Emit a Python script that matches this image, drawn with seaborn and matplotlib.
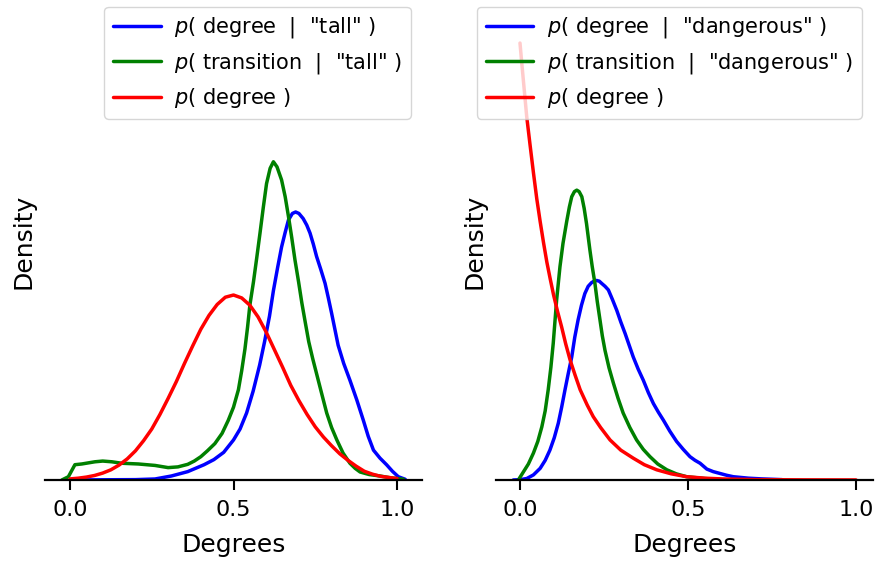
import numpy as np
import pandas as pd
import matplotlib
matplotlib.use("Agg")
import matplotlib.pyplot as plt
import seaborn as sns

# ---- density curves for "tall" ----
tall_degree_x = [0.0, 0.10, 0.20, 0.26, 0.31, 0.36, 0.41, 0.44, 0.47, 0.50, 0.52,
                 0.54, 0.56, 0.58, 0.595, 0.61, 0.622, 0.635, 0.647, 0.658, 0.668,
                 0.68, 0.69, 0.70, 0.713, 0.724, 0.734, 0.744, 0.754, 0.767, 0.78,
                 0.79, 0.80, 0.81, 0.82, 0.837, 0.856, 0.877, 0.897, 0.912, 0.928,
                 0.948, 0.968, 0.986, 1.004, 1.025]
tall_degree_y = [0.0, 0.003, 0.005, 0.014, 0.055, 0.115, 0.21, 0.28, 0.38, 0.55, 0.70,
                 0.92, 1.22, 1.58, 1.90, 2.25, 2.60, 2.92, 3.20, 3.40, 3.57,
                 3.66, 3.68, 3.66, 3.59, 3.50, 3.39, 3.24, 3.07, 2.89, 2.70,
                 2.50, 2.29, 2.07, 1.85, 1.60, 1.37, 1.10, 0.82, 0.60, 0.41,
                 0.30, 0.21, 0.12, 0.045, 0.01]

tall_transition_x = [-0.025, -0.005, 0.015, 0.036, 0.076, 0.10, 0.128, 0.158, 0.209,
                     0.26, 0.30, 0.33, 0.36, 0.38, 0.40, 0.42, 0.443, 0.465, 0.484,
                     0.50, 0.515, 0.525, 0.535, 0.543, 0.55, 0.561, 0.571, 0.581,
                     0.591, 0.601, 0.612, 0.622, 0.633, 0.647, 0.658, 0.668, 0.678,
                     0.688, 0.699, 0.709, 0.72, 0.73, 0.742, 0.754, 0.77, 0.785,
                     0.80, 0.816, 0.835, 0.856, 0.872, 0.887, 0.915, 0.948, 0.98, 1.02]
tall_transition_y = [0.0, 0.045, 0.21, 0.22, 0.25, 0.26, 0.25, 0.23, 0.22,
                     0.20, 0.17, 0.18, 0.215, 0.26, 0.32, 0.40, 0.50, 0.64, 0.82,
                     1.00, 1.24, 1.50, 1.80, 2.10, 2.40, 2.72, 3.05, 3.39,
                     3.74, 4.07, 4.28, 4.37, 4.30, 4.12, 3.89, 3.62, 3.33,
                     3.02, 2.72, 2.43, 2.15, 1.90, 1.67, 1.46, 1.18, 0.92,
                     0.72, 0.55, 0.37, 0.23, 0.16, 0.11, 0.075, 0.055, 0.03, 0.01]

tall_prior_x = [0.0, 0.025, 0.05, 0.075, 0.10, 0.125, 0.15, 0.175, 0.20, 0.225, 0.25,
                0.275, 0.30, 0.325, 0.35, 0.375, 0.40, 0.425, 0.45, 0.475, 0.50,
                0.525, 0.55, 0.575, 0.60, 0.625, 0.65, 0.675, 0.70, 0.725, 0.75,
                0.775, 0.80, 0.825, 0.85, 0.875, 0.90, 0.925, 0.95, 0.975, 1.0]
tall_prior_y = [0.015, 0.025, 0.04, 0.062, 0.095, 0.14, 0.205, 0.29, 0.40, 0.54, 0.70,
                0.90, 1.12, 1.35, 1.60, 1.84, 2.07, 2.26, 2.41, 2.51, 2.54,
                2.50, 2.40, 2.24, 2.03, 1.79, 1.55, 1.30, 1.09, 0.90, 0.73,
                0.59, 0.47, 0.36, 0.27, 0.19, 0.12, 0.08, 0.05, 0.035, 0.02]

# ---- density curves for "dangerous" ----
dang_degree_x = [-0.02, 0.0, 0.02, 0.04, 0.06, 0.075, 0.089, 0.102, 0.114, 0.124,
                 0.134, 0.144, 0.154, 0.163, 0.173, 0.183, 0.193, 0.203, 0.213,
                 0.22, 0.228, 0.236, 0.243, 0.253, 0.263, 0.275, 0.288, 0.30, 0.313,
                 0.325, 0.337, 0.352, 0.367, 0.382, 0.397, 0.412, 0.427, 0.446, 0.466,
                 0.486, 0.506, 0.521, 0.536, 0.556, 0.575, 0.595, 0.615, 0.635,
                 0.68, 0.72, 0.78]
dang_degree_y = [0.0, 0.005, 0.02, 0.07, 0.16, 0.27, 0.41, 0.58, 0.78, 1.00,
                 1.24, 1.47, 1.69, 1.96, 2.20, 2.40, 2.56, 2.66, 2.71,
                 2.73, 2.74, 2.73, 2.70, 2.66, 2.61, 2.48, 2.33, 2.17, 2.01,
                 1.85, 1.69, 1.52, 1.37, 1.20, 1.05, 0.93, 0.82, 0.67, 0.53,
                 0.42, 0.32, 0.27, 0.23, 0.15, 0.115, 0.09, 0.065, 0.045,
                 0.025, 0.015, 0.005]

dang_transition_x = [-0.005, 0.01, 0.025, 0.04, 0.053, 0.065, 0.075, 0.084, 0.092,
                     0.099, 0.109, 0.119, 0.128, 0.139, 0.147, 0.154, 0.162, 0.169,
                     0.176, 0.184, 0.191, 0.198, 0.208, 0.215, 0.223, 0.23, 0.238,
                     0.245, 0.253, 0.265, 0.278, 0.292, 0.307, 0.327, 0.347, 0.367,
                     0.387, 0.41, 0.437, 0.465, 0.496, 0.55, 0.60]
dang_transition_y = [0.0, 0.11, 0.22, 0.37, 0.53, 0.73, 0.95, 1.24, 1.55,
                     1.88, 2.47, 2.93, 3.25, 3.55, 3.75, 3.89, 3.96, 3.98,
                     3.96, 3.89, 3.73, 3.52, 3.16, 2.93, 2.70, 2.45, 2.20,
                     1.98, 1.78, 1.54, 1.33, 1.12, 0.92, 0.72, 0.55, 0.42,
                     0.32, 0.22, 0.14, 0.085, 0.045, 0.02, 0.005]

dang_prior_x = [0.0, 0.005, 0.01, 0.015, 0.02, 0.03, 0.04, 0.05, 0.06, 0.07, 0.08,
                0.09, 0.10, 0.112, 0.124, 0.136, 0.149, 0.164, 0.179, 0.20, 0.218,
                0.24, 0.268, 0.30, 0.337, 0.37, 0.407, 0.45, 0.496, 0.55, 0.60,
                0.70, 0.85, 1.0]
dang_prior_y = [6.0, 5.74, 5.49, 5.24, 4.99, 4.60, 4.22, 3.86, 3.55, 3.26, 2.99,
                2.76, 2.54, 2.31, 2.10, 1.87, 1.65, 1.44, 1.24, 1.03, 0.87,
                0.72, 0.55, 0.41, 0.30, 0.21, 0.14, 0.085, 0.045, 0.025, 0.015,
                0.005, 0.002, 0.001]

series_colors = ["blue", "green", "red"]
tick_values = [0.0, 0.5, 1.0]
tick_labels = ["0.0", "0.5", "1.0"]

sns.set_style("white")
plt.rcParams["font.family"] = ["DejaVu Sans"]
plt.rcParams["text.color"] = "black"
plt.rcParams["axes.labelcolor"] = "black"
plt.rcParams["xtick.color"] = "black"
plt.rcParams["xtick.labelcolor"] = "black"

fig = plt.figure(figsize=(8.77, 5.61), dpi=100)
W, H = 877, 561
ax_left = fig.add_axes([45 / W, 81 / H, 376.7 / W, 477 / H])
ax_right = fig.add_axes([496 / W, 81 / H, 377 / W, 477 / H])

panels = [
    (ax_left, "tall",
     [(tall_degree_x, tall_degree_y), (tall_transition_x, tall_transition_y),
      (tall_prior_x, tall_prior_y)],
     (-0.0765, 1.0755), 410.5),
    (ax_right, "dangerous",
     [(dang_degree_x, dang_degree_y), (dang_transition_x, dang_transition_y),
      (dang_prior_x, dang_prior_y)],
     (-0.0714, 1.0506), 861.5),
]

for ax, word, curves, xlim, legend_right in panels:
    labels = [
        rf'$p$( degree  |  "{word}" )',
        rf'$p$( transition  |  "{word}" )',
        r'$p$( degree )',
    ]
    for (xs, ys), color, label in zip(curves, series_colors, labels):
        df = pd.DataFrame({"Degrees": xs, "Density": ys})
        sns.lineplot(data=df, x="Degrees", y="Density", color=color, lw=2.5,
                     label=label, ax=ax, sort=False, estimator=None)
    ax.set_xlim(*xlim)
    ax.set_ylim(0, 6.55)
    ax.set_xticks(tick_values)
    ax.set_xticklabels(tick_labels)
    ax.set_yticks([])
    ax.tick_params(axis="x", bottom=True, direction="out", length=7, width=1.5,
                   labelsize=16, pad=7.5, color="black", labelcolor="black")
    for side in ["left", "top", "right"]:
        ax.spines[side].set_visible(False)
    ax.spines["bottom"].set_color("black")
    ax.spines["bottom"].set_linewidth(1.6)
    ax.set_xlabel("Degrees", fontsize=18, labelpad=9, color="black")
    ax.set_ylabel("Density", fontsize=18, labelpad=7, color="black")
    leg = ax.legend(loc="upper right",
                    bbox_to_anchor=(legend_right / W, 1 - 7 / H),
                    bbox_transform=fig.transFigure, borderaxespad=0,
                    fontsize=15, handlelength=2.3, handletextpad=0.65,
                    framealpha=0.8, edgecolor="0.8", fancybox=True)
    for text in leg.get_texts():
        text.set_color("black")
    for line in leg.get_lines():
        line.set_linewidth(2.5)

fig.savefig("out.png", dpi=100)
